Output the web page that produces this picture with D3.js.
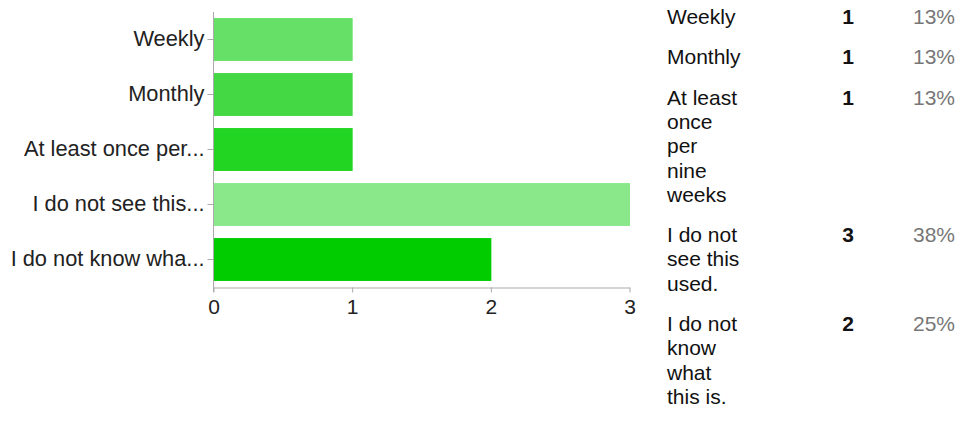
<!DOCTYPE html>
<html>
<head>
<meta charset="utf-8">
<script src="https://cdn.jsdelivr.net/npm/d3@7/dist/d3.min.js"></script>
<style>
  html, body { margin: 0; padding: 0; background: #fff; }
  svg { display: block; }
</style>
</head>
<body>
<svg id="chart" width="960" height="435"></svg>
<script>
// ---- data ----
const shortLabels = ["Weekly", "Monthly", "At least once per...", "I do not see this...", "I do not know wha..."];
const fullLabels = ["Weekly", "Monthly", "At least once per nine weeks", "I do not see this used.", "I do not know what this is."];
const counts = [1, 1, 1, 3, 2];
const percents = ["13%", "13%", "13%", "38%", "25%"];
const barColors = ["#66e066", "#44d944", "#22d522", "#8ae88a", "#00cc00"];
const xTicks = [0, 1, 2, 3];

const svg = d3.select("#chart");
const font = "'Liberation Sans', Arial, Helvetica, sans-serif";

// ---- bar chart ----
const x = d3.scaleLinear().domain([0, 3]).range([213.5, 629.5]);
const y = d3.scaleBand().domain(shortLabels).range([12, 287]).paddingInner(0.22).paddingOuter(0.11);

svg.append("g").selectAll("rect")
  .data(shortLabels)
  .join("rect")
  .attr("x", x(0) + 0.5)
  .attr("y", d => y(d))
  .attr("width", (d, i) => x(counts[i]) - x(0))
  .attr("height", y.bandwidth())
  .attr("fill", (d, i) => barColors[i]);

// y axis
const yAxis = svg.append("g")
  .attr("transform", `translate(${x(0)},0)`)
  .call(d3.axisLeft(y).tickSize(6).tickSizeOuter(0).tickPadding(3));
yAxis.select(".domain").attr("stroke", "#aaa").attr("d", `M0,12V${292}`);
yAxis.selectAll(".tick line").attr("stroke", "#aaa");
yAxis.selectAll(".tick text")
  .attr("fill", "#222")
  .style("font-family", font)
  .style("font-size", "21.8px");

// x axis
const xAxis = svg.append("g")
  .attr("transform", `translate(0,287.5)`)
  .call(d3.axisBottom(x).tickValues(xTicks).tickFormat(d3.format("d")).tickSize(5).tickSizeOuter(0).tickPadding(7));
xAxis.select(".domain").attr("stroke", "#aaa");
xAxis.selectAll(".tick line").attr("stroke", "#aaa");
xAxis.selectAll(".tick text")
  .attr("fill", "#222")
  .style("font-family", font)
  .style("font-size", "21px");

// ---- table ----
const tableFont = "21px " + font;
const lineH = 24.3;
const rowGap = 16;
const wrapW = 74;
const labelX = 667, countX = 848, pctX = 955;

function wrap(text) {
  const ctx = document.createElement("canvas").getContext("2d");
  ctx.font = tableFont;
  const words = text.split(" ");
  const lines = [];
  let cur = "";
  words.forEach(w => {
    const t = cur ? cur + " " + w : w;
    if (ctx.measureText(t).width > wrapW && cur) { lines.push(cur); cur = w; }
    else cur = t;
  });
  if (cur) lines.push(cur);
  return lines;
}

let base = 24;
const table = svg.append("g").style("font-family", font).style("font-size", "21px");
fullLabels.forEach((lab, i) => {
  const lines = wrap(lab);
  const t = table.append("text").attr("x", labelX).attr("y", base).attr("fill", "#111");
  lines.forEach((ln, j) => {
    t.append("tspan").attr("x", labelX).attr("y", base + j * lineH).text(ln);
  });
  table.append("text").attr("x", countX).attr("y", base).attr("text-anchor", "middle")
    .attr("font-weight", "bold").attr("fill", "#111").text(counts[i]);
  table.append("text").attr("x", pctX).attr("y", base).attr("text-anchor", "end")
    .attr("fill", "#777").text(percents[i]);
  base += lines.length * lineH + rowGap;
});
</script>
</body>
</html>
